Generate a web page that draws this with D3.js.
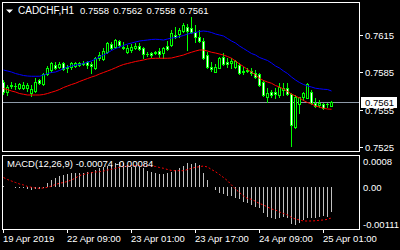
<!DOCTYPE html>
<html><head><meta charset="utf-8">
<script src="https://cdn.jsdelivr.net/npm/d3@7"></script>
<style>html,body{margin:0;padding:0;background:#000;overflow:hidden}svg{display:block}</style>
</head><body><svg id="c" width="400" height="250"></svg>
<script>
// ---------------- DATA ----------------
const symbol = "CADCHF,H1";
const lastQuote = ["0.7558", "0.7562", "0.7558", "0.7561"];
const currentPrice = 0.7561;
const opens = [.75770,.75690,.75746,.75738,.75722,.75722,.75722,.75682,.75698,.75786,
.75754,.75834,.75866,.75906,.75890,.75922,.75890,.75890,.75898,.75906,
.75922,.75930,.75914,.75882,.75962,.75954,.76010,.76074,.76050,.76098,
.76050,.76010,.76026,.76042,.76058,.76042,.75994,.76002,.76010,.76018,
.76002,.76058,.76066,.76146,.76154,.76178,.76210,.76202,.76170,.76130,
.76098,.75986,.75890,.75850,.75882,.75970,.75930,.75922,.75890,.75906,
.75858,.75866,.75858,.75842,.75834,.75770,.75650,.75690,.75690,.75666,
.75706,.75722,.75674,.75410,.75594,.75650,.75642,.75690,.75602,.75586,
.75594,.75594,.75580];
const highs = [.75786,.75746,.75770,.75762,.75762,.75770,.75762,.75746,.75802,.75794,
.75842,.75898,.75930,.75930,.75930,.75930,.75906,.75930,.75930,.75930,
.75938,.75938,.75930,.75970,.76010,.76042,.76090,.76090,.76114,.76106,
.76090,.76066,.76074,.76082,.76082,.76046,.76010,.76010,.76018,.76042,
.76050,.76098,.76186,.76210,.76202,.76242,.76234,.76290,.76226,.76186,
.76122,.76010,.75930,.75914,.75970,.76002,.75962,.75962,.75946,.75922,
.75890,.75882,.75882,.75866,.75842,.75786,.75722,.75706,.75722,.75762,
.75762,.75762,.75682,.75666,.75654,.75690,.75762,.75706,.75642,.75626,
.75602,.75602,.75620];
const lows = [.75674,.75666,.75722,.75714,.75714,.75714,.75698,.75658,.75690,.75754,
.75746,.75826,.75850,.75874,.75882,.75866,.75850,.75874,.75890,.75898,
.75906,.75882,.75842,.75874,.75946,.75946,.76002,.76038,.76042,.76050,
.76034,.76002,.76010,.76038,.76026,.75962,.75978,.75970,.75994,.75970,
.75962,.76026,.76058,.76122,.76130,.76170,.76026,.76162,.76090,.76090,
.75954,.75882,.75858,.75846,.75878,.75906,.75890,.75882,.75882,.75834,
.75834,.75850,.75826,.75802,.75738,.75658,.75610,.75650,.75642,.75650,
.75666,.75666,.75258,.75406,.75522,.75626,.75638,.75594,.75570,.75570,
.75554,.75570,.75580];
const closes = [.75690,.75730,.75742,.75734,.75754,.75746,.75746,.75714,.75770,.75762,
.75834,.75882,.75922,.75882,.75914,.75874,.75882,.75922,.75922,.75922,
.75918,.75906,.75898,.75962,.75986,.76018,.76082,.76042,.76106,.76066,
.76042,.76042,.76050,.76058,.76034,.75994,.75990,.75986,.76006,.75994,
.76042,.76034,.76162,.76130,.76186,.76226,.76178,.76170,.76130,.76098,
.75962,.75890,.75874,.75890,.75962,.75914,.75914,.75938,.75938,.75842,
.75854,.75862,.75842,.75810,.75746,.75666,.75682,.75666,.75674,.75730,
.75722,.75674,.75426,.75650,.75650,.75682,.75754,.75602,.75578,.75602,
.75562,.75590,.75610];
const maBlue = [.75866,.75858,.75850,.75838,.75830,.75822,.75818,.75816,.75816,.75816,
.75826,.75838,.75846,.75850,.75862,.75878,.75890,.75898,.75906,.75910,
.75918,.75930,.75938,.75954,.75970,.75986,.76002,.76022,.76038,.76050,
.76062,.76074,.76082,.76090,.76098,.76102,.76106,.76110,.76112,.76110,
.76106,.76114,.76122,.76126,.76134,.76142,.76154,.76160,.76166,.76174,
.76178,.76174,.76166,.76154,.76146,.76138,.76118,.76098,.76082,.76058,
.76038,.76018,.75998,.75986,.75966,.75954,.75942,.75922,.75898,.75882,
.75858,.75838,.75810,.75786,.75766,.75750,.75738,.75730,.75720,.75716,
.75712,.75710,.75698];
const maRed = [.75718,.75710,.75698,.75690,.75678,.75672,.75666,.75666,.75666,.75666,
.75670,.75678,.75688,.75698,.75710,.75726,.75738,.75750,.75760,.75774,
.75786,.75798,.75810,.75820,.75834,.75846,.75858,.75870,.75884,.75898,
.75910,.75918,.75926,.75934,.75940,.75946,.75954,.75958,.75960,.75960,
.75960,.75960,.75962,.75970,.75978,.75986,.75998,.76008,.76018,.76026,
.76026,.76018,.76008,.76002,.75994,.75986,.75974,.75960,.75938,.75914,
.75894,.75870,.75850,.75826,.75800,.75782,.75770,.75760,.75742,.75730,
.75714,.75694,.75674,.75658,.75642,.75622,.75606,.75594,.75578,.75570,
.75560,.75554,.75552];
const macdHist = [.000038,.000009,.000005,-.000015,-.000029,-.000029,-.000050,-.000079,-.000059,-.000059,
-.000021,.000118,.000215,.000265,.000332,.000362,.000391,.000412,.000429,.000429,
.000429,.000459,.000459,.000509,.000559,.000588,.000626,.000656,.000723,.000753,
.000723,.000656,.000606,.000606,.000588,.000559,.000488,.000459,.000429,.000391,
.000391,.000429,.000459,.000509,.000559,.000626,.000706,.000685,.000706,.000656,
.000429,.000215,.000009,-.000079,-.000156,-.000206,-.000256,-.000256,-.000303,-.000353,
-.000420,-.000470,-.000520,-.000567,-.000617,-.000764,-.000861,-.000911,-.000941,-.000911,
-.000861,-.000911,-.001079,-.001110,-.001038,-.000961,-.000911,-.000911,-.000911,-.000861,
-.000844,-.000861,-.000740];
const macdSignal = [.000288,.000229,.000185,.000141,.000097,.000068,.000024,0,-.000021,-.000029,
-.000021,0,.000038,.000082,.000118,.000141,.000171,.000215,.000274,.000347,
.000376,.000412,.000429,.000450,.000459,.000479,.000509,.000529,.000559,.000588,
.000612,.000626,.000641,.000641,.000641,.000635,.000629,.000626,.000612,.000582,
.000559,.000523,.000494,.000488,.000488,.000488,.000523,.000559,.000588,.000606,
.000626,.000597,.000523,.000459,.000376,.000288,.000194,.000068,-.000050,-.000153,
-.000256,-.000329,-.000353,-.000412,-.000476,-.000520,-.000579,-.000638,-.000667,-.000726,
-.000770,-.000814,-.000888,-.000932,-.000961,-.000991,-.000991,-.000991,-.000982,-.000970,
-.000961,-.000941,-.000900];
const priceTicks = [0.7615, 0.7585, 0.7555, 0.7525];
const macdTicks = [0.00075, 0, -0.00111];
const macdTickLabels = ["0.0008", "0.00", "-0.00111"];
const timeTickBars = [0, 16, 32, 48, 64, 80];
const timeTickLabels = ["19 Apr 2019", "22 Apr 09:00", "23 Apr 01:00", "23 Apr 17:00", "24 Apr 09:00", "25 Apr 01:00"];
const macdTitle = "MACD(12,26,9) -0.00074 -0.00084";

// ---------------- DRAW ----------------
const svg = d3.select("#c");
const FONT = "'Liberation Sans', Arial, sans-serif";
const GREEN = "#00ff00";
svg.append("rect").attr("width", 400).attr("height", 250).attr("fill", "#000");

const L = 2.5, R = 359.5;
const mainTop = 2.5, mainBot = 151.5, macdTop = 155.5, macdBot = 229.5;

const x = d3.scaleLinear().domain([0, 89]).range([3, 359]);
const y = d3.scaleLinear().domain([0.75214, 0.76406]).range([mainBot, mainTop]);
const ym = d3.scaleLinear().domain([-0.001241, 0.000935]).range([macdBot, macdTop]);

const idx = d3.range(closes.length);
const main = svg.append("g");

// current price line
const cpY = Math.round(y(currentPrice)) + 0.5;
main.append("line").attr("x1", 3).attr("x2", R).attr("y1", cpY).attr("y2", cpY)
  .attr("stroke", "#8e9aa8").attr("stroke-width", 1);

// wicks
main.selectAll("line.wick").data(idx).join("line").attr("class", "wick")
  .attr("x1", i => Math.round(x(i)) + 0.5).attr("x2", i => Math.round(x(i)) + 0.5)
  .attr("y1", i => Math.round(y(highs[i]))).attr("y2", i => Math.round(y(lows[i])) + 1)
  .attr("stroke", GREEN).attr("stroke-width", 1);

// bodies
idx.forEach(i => {
  const cx = Math.round(x(i));
  const yT = Math.round(y(Math.max(opens[i], closes[i])));
  const yB = Math.round(y(Math.min(opens[i], closes[i])));
  const bull = closes[i] > opens[i];
  if (yB - yT < 2) {
    main.append("rect").attr("x", cx - 1).attr("y", yT).attr("width", 3).attr("height", Math.max(1, yB - yT + 1))
      .attr("fill", GREEN);
  } else {
    main.append("rect").attr("x", cx - 0.5).attr("y", yT + 0.5).attr("width", 2).attr("height", yB - yT)
      .attr("fill", bull ? "#000" : "#fff").attr("stroke", GREEN).attr("stroke-width", 1);
  }
});

// moving averages
const lineMain = arr => d3.line().x((d, i) => Math.round(x(i)) + 0.5).y(d => y(d))(arr);
main.append("path").attr("d", lineMain(maBlue)).attr("fill", "none").attr("stroke", "#0000ff").attr("stroke-width", 1);
main.append("path").attr("d", lineMain(maRed)).attr("fill", "none").attr("stroke", "#ff0000").attr("stroke-width", 1);

// MACD histogram
const z = Math.round(ym(0));
svg.selectAll("line.hist").data(idx).join("line").attr("class", "hist")
  .attr("x1", i => Math.round(x(i)) + 0.5).attr("x2", i => Math.round(x(i)) + 0.5)
  .attr("y1", z).attr("y2", i => Math.round(ym(macdHist[i])))
  .attr("stroke", "#c0c0c0").attr("stroke-width", 1);
svg.append("path")
  .attr("d", d3.line().x((d, i) => Math.round(x(i)) + 0.5).y(d => ym(d))(macdSignal))
  .attr("fill", "none").attr("stroke", "#ff0000").attr("stroke-width", 1).attr("stroke-dasharray", "2,2");

// frames
svg.append("rect").attr("x", L).attr("y", mainTop).attr("width", R - L).attr("height", mainBot - mainTop)
  .attr("fill", "none").attr("stroke", "#fff");
svg.append("rect").attr("x", L).attr("y", macdTop).attr("width", R - L).attr("height", macdBot - macdTop)
  .attr("fill", "none").attr("stroke", "#fff");

// price axis
priceTicks.forEach(p => {
  const yy = Math.round(y(p)) + 0.5;
  svg.append("line").attr("x1", 360).attr("x2", 363).attr("y1", yy).attr("y2", yy).attr("stroke", "#fff");
  svg.append("text").attr("x", 365).attr("y", yy).attr("dy", "0.36em").text(p.toFixed(4))
    .attr("fill", "#fff").attr("font-family", FONT).attr("font-size", "9.5px");
});
// current price box
svg.append("rect").attr("x", 361).attr("y", cpY - 5.5).attr("width", 36).attr("height", 11).attr("fill", "#fff");
svg.append("text").attr("x", 365).attr("y", cpY).attr("dy", "0.36em").text(currentPrice.toFixed(4))
  .attr("fill", "#000").attr("font-family", FONT).attr("font-size", "9.5px");

// MACD axis
macdTicks.forEach((v, k) => {
  svg.append("text").attr("x", 363).attr("y", ym(v)).attr("dy", "0.36em").text(macdTickLabels[k])
    .attr("fill", "#fff").attr("font-family", FONT).attr("font-size", "9.5px");
});

// time axis
timeTickBars.forEach((b, k) => {
  const xx = Math.round(x(b)) + 0.5;
  svg.append("line").attr("x1", xx).attr("x2", xx).attr("y1", 230).attr("y2", 233).attr("stroke", "#fff");
  svg.append("text").attr("x", Math.round(x(b))).attr("y", 242).text(timeTickLabels[k])
    .attr("fill", "#fff").attr("font-family", FONT).attr("font-size", "9.5px");
});

// titles
svg.append("path").attr("d", "M6,9.5 L13,9.5 L9.5,13 Z").attr("fill", "#fff");
const t = svg.append("text").attr("x", 18).attr("y", 14).attr("fill", "#fff").attr("font-family", FONT);
t.append("tspan").attr("font-size", "10px").text(symbol);
t.append("tspan").attr("x", 80).attr("font-size", "9.5px").attr("word-spacing", "1.5px").text(lastQuote.join(" "));
svg.append("text").attr("x", 7).attr("y", 167).text(macdTitle)
  .attr("fill", "#fff").attr("font-family", FONT).attr("font-size", "9.5px");
</script></body></html>
